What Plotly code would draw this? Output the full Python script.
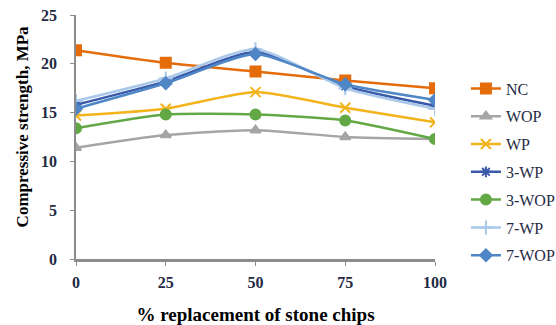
import plotly.graph_objects as go

replacement = [0, 25, 50, 75, 100]

nc = [21.4, 20.1, 19.2, 18.3, 17.5]
wop = [11.4, 12.7, 13.2, 12.5, 12.3]
wp = [14.7, 15.4, 17.1, 15.5, 14.0]
wp3 = [15.8, 18.2, 21.2, 17.7, 15.7]
wop3 = [13.4, 14.8, 14.8, 14.2, 12.3]
wp7 = [16.2, 18.5, 21.5, 17.5, 15.4]
wop7 = [15.4, 18.0, 21.0, 17.9, 16.3]

series = [
    ("NC", nc, "#E46C0A", "square", 10),
    ("WOP", wop, "#A5A5A5", "triangle-up", 9),
    ("WP", wp, "#F2B31B", "x-thin-open", 10),
    ("3-WP", wp3, "#3A5BAA", "asterisk-open", 9),
    ("3-WOP", wop3, "#62A844", "circle", 10),
    ("7-WP", wp7, "#A9C8EA", "cross-thin-open", 10),
    ("7-WOP", wop7, "#4F86C6", "diamond", 9),
]

fig = go.Figure()
for name, vals, color, sym, size in series:
    fig.add_trace(go.Scatter(
        x=replacement, y=vals, name=name, legendgroup=name,
        mode="lines+markers",
        line=dict(color=color, width=2.5, shape="spline", smoothing=0.6),
        marker=dict(symbol=sym, size=size, color=color,
                    line=dict(color=color, width=2)),
    ))

tick_font = dict(family="Liberation Serif", size=16, color="#1F2A44")

fig.update_layout(
    width=556, height=325,
    margin=dict(l=76, r=121, t=15, b=66),
    paper_bgcolor="white", plot_bgcolor="white",
    font=dict(family="Liberation Serif", color="black"),
    legend=dict(xref="container", yref="container", x=0.838, y=0.78,
                xanchor="left", yanchor="top", maxheight=320,
                font=dict(family="Liberation Serif", size=16, color="#1F2A44"),
                tracegroupgap=4, itemwidth=30, bgcolor="rgba(0,0,0,0)"),
    showlegend=True,
    annotations=[dict(
        text="<b>Compressive strength, MPa</b>", textangle=-90,
        xref="paper", yref="paper", x=-0.15, y=0.54,
        xanchor="center", yanchor="middle", showarrow=False,
        font=dict(family="Liberation Serif", size=17, color="black"),
    )],
)
fig.update_xaxes(
    range=[0, 100], tickvals=replacement, ticktext=[f"<b>{v}</b>" for v in replacement],
    tickfont=tick_font, showgrid=False, zeroline=False, automargin=False,
    showline=True, linecolor="#8C8C8C", linewidth=3,
    ticks="outside", ticklen=4, tickcolor="#8C8C8C", ticklabelstandoff=3,
    title=dict(text="<b>% replacement of stone chips</b>",
               font=dict(family="Liberation Serif", size=19, color="black"), standoff=20),
)
fig.update_yaxes(
    range=[0, 25], tickvals=[0, 5, 10, 15, 20, 25],
    ticktext=[f"<b>{v}</b>" for v in [0, 5, 10, 15, 20, 25]],
    tickfont=tick_font, showgrid=False, zeroline=False, automargin=False,
    showline=True, linecolor="#8C8C8C", linewidth=1.5,
    ticks="outside", ticklen=4, tickcolor="#8C8C8C", ticklabelstandoff=10,
)

fig.write_html("out.html")
